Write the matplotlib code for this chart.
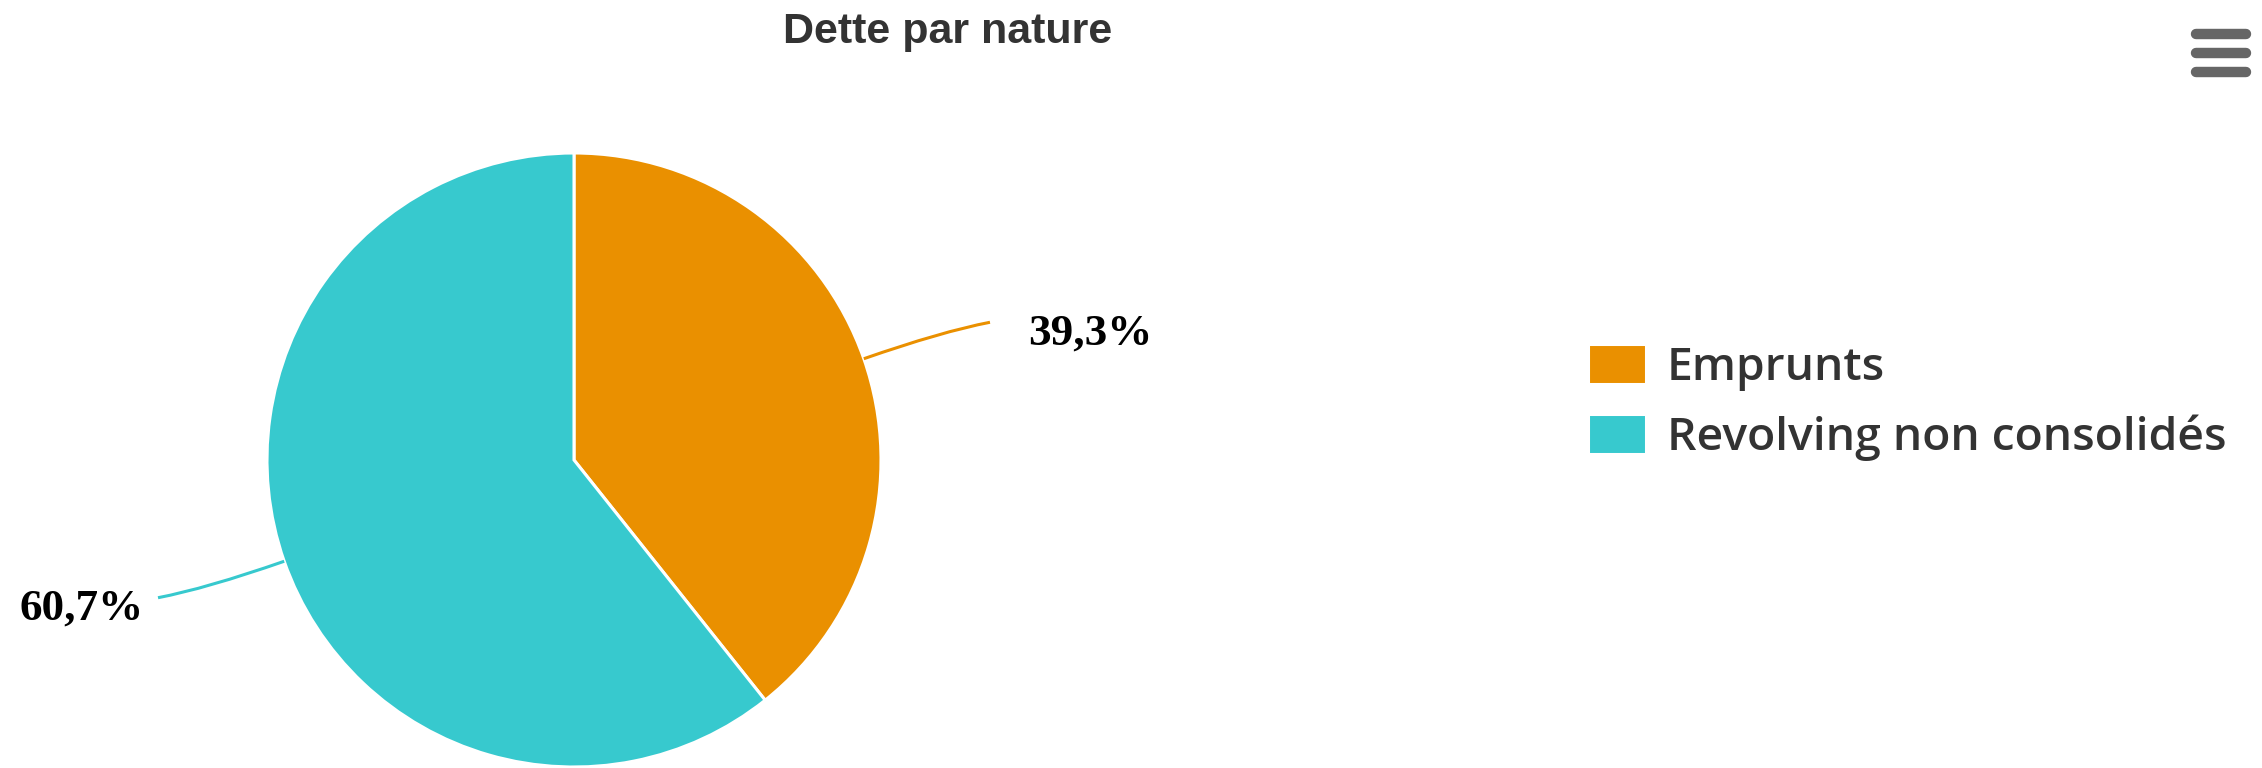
import matplotlib
matplotlib.use("Agg")
import matplotlib.pyplot as plt
from matplotlib.lines import Line2D
from matplotlib.path import Path
from matplotlib.patches import PathPatch
import numpy as np

title = "Dette par nature"
categories = ["Emprunts", "Revolving non consolidés"]
values = [39.3, 60.7]
labels = ["39,3%", "60,7%"]
colors = ["#EA9000", "#37C9CE"]

W, H = 2262, 768
fig = plt.figure(figsize=(W / 100, H / 100), dpi=100)
fig.patch.set_facecolor("white")

cx, cy, R = 574, 460, 307
ax = fig.add_axes([(cx - R) / W, (H - cy - R) / H, 2 * R / W, 2 * R / H])
wedges, _ = ax.pie(values, colors=colors, startangle=90, counterclock=False,
                   radius=1.0, wedgeprops=dict(edgecolor="white", linewidth=2.2))
ax.set_xlim(-1, 1)
ax.set_ylim(-1, 1)
ax.set_aspect("equal")
ax.axis("off")

# data labels with soft connectors
for w, lab, col in zip(wedges, labels, colors):
    mid = np.deg2rad((w.theta1 + w.theta2) / 2)
    c, s = np.cos(mid), np.sin(mid)
    side = 1 if c >= 0 else -1
    p0 = (c, s)
    p1 = (1.27 * c, 1.27 * s)
    ey = 1.36 * s
    p2 = (side * 1.355, ey)
    path = Path([p0, p1, p2], [Path.MOVETO, Path.CURVE3, Path.CURVE3])
    ax.add_patch(PathPatch(path, facecolor="none", edgecolor=col, lw=2.2, clip_on=False))
    tx = 1.48 if side > 0 else -1.40
    ax.text(tx, ey - 22 / R, lab,
            ha="left" if side > 0 else "right", va="baseline",
            fontsize=32.5, fontweight="bold", family=["Liberation Serif", "DejaVu Serif"],
            color="black", clip_on=False)

fig.text(948 / W, 1 - 43 / H, title, ha="center", va="baseline", fontsize=31,
         fontweight="bold", family=["Liberation Sans", "DejaVu Sans"], color="#333333")

# legend font size fitted to target width of the longest label
leg_family = ["Open Sans", "Noto Sans", "DejaVu Sans"]
leg_weight = 600
renderer = fig.canvas.get_renderer()
probe = fig.text(0, 0, categories[1], fontsize=20, family=leg_family, fontweight=leg_weight)
wpx = probe.get_window_extent(renderer).width
probe.remove()
leg_size = 20 * 559 / wpx
fpx = leg_size * 100 / 72

target_left, target_top, row_step = 1588, 344, 70


def make_legend(spacing, anchor):
    lg = fig.legend(wedges, categories, loc="upper left",
                    bbox_to_anchor=anchor, frameon=False,
                    prop=dict(family=leg_family, size=leg_size, weight=leg_weight),
                    handlelength=58 / fpx, handleheight=44 / fpx, handletextpad=21 / fpx,
                    labelspacing=spacing, borderaxespad=0, borderpad=0)
    for t in lg.get_texts():
        t.set_color("#333333")
    return lg


spacing = 0.3
anchor = (target_left / W, 1 - target_top / H)
leg = make_legend(spacing, anchor)
fig.canvas.draw()
hb = [h.get_window_extent(renderer) for h in leg.legend_handles]
step = hb[0].y0 - hb[1].y0
spacing = spacing + (row_step - step) / fpx
leg.remove()
leg = make_legend(spacing, anchor)
fig.canvas.draw()
hb0 = leg.legend_handles[0].get_window_extent(renderer)
dx = target_left - hb0.x0
dy = (H - target_top) - hb0.y1
leg.remove()
anchor = ((target_left + dx) / W, (H - target_top + dy) / H)
leg = make_legend(spacing, anchor)

# menu icon
for yy in (34, 53, 72):
    fig.add_artist(Line2D([2196 / W, 2246 / W], [1 - yy / H, 1 - yy / H],
                          transform=fig.transFigure, color="#666666", lw=7.5,
                          solid_capstyle="round"))

fig.savefig("out.png", dpi=100, facecolor="white")
